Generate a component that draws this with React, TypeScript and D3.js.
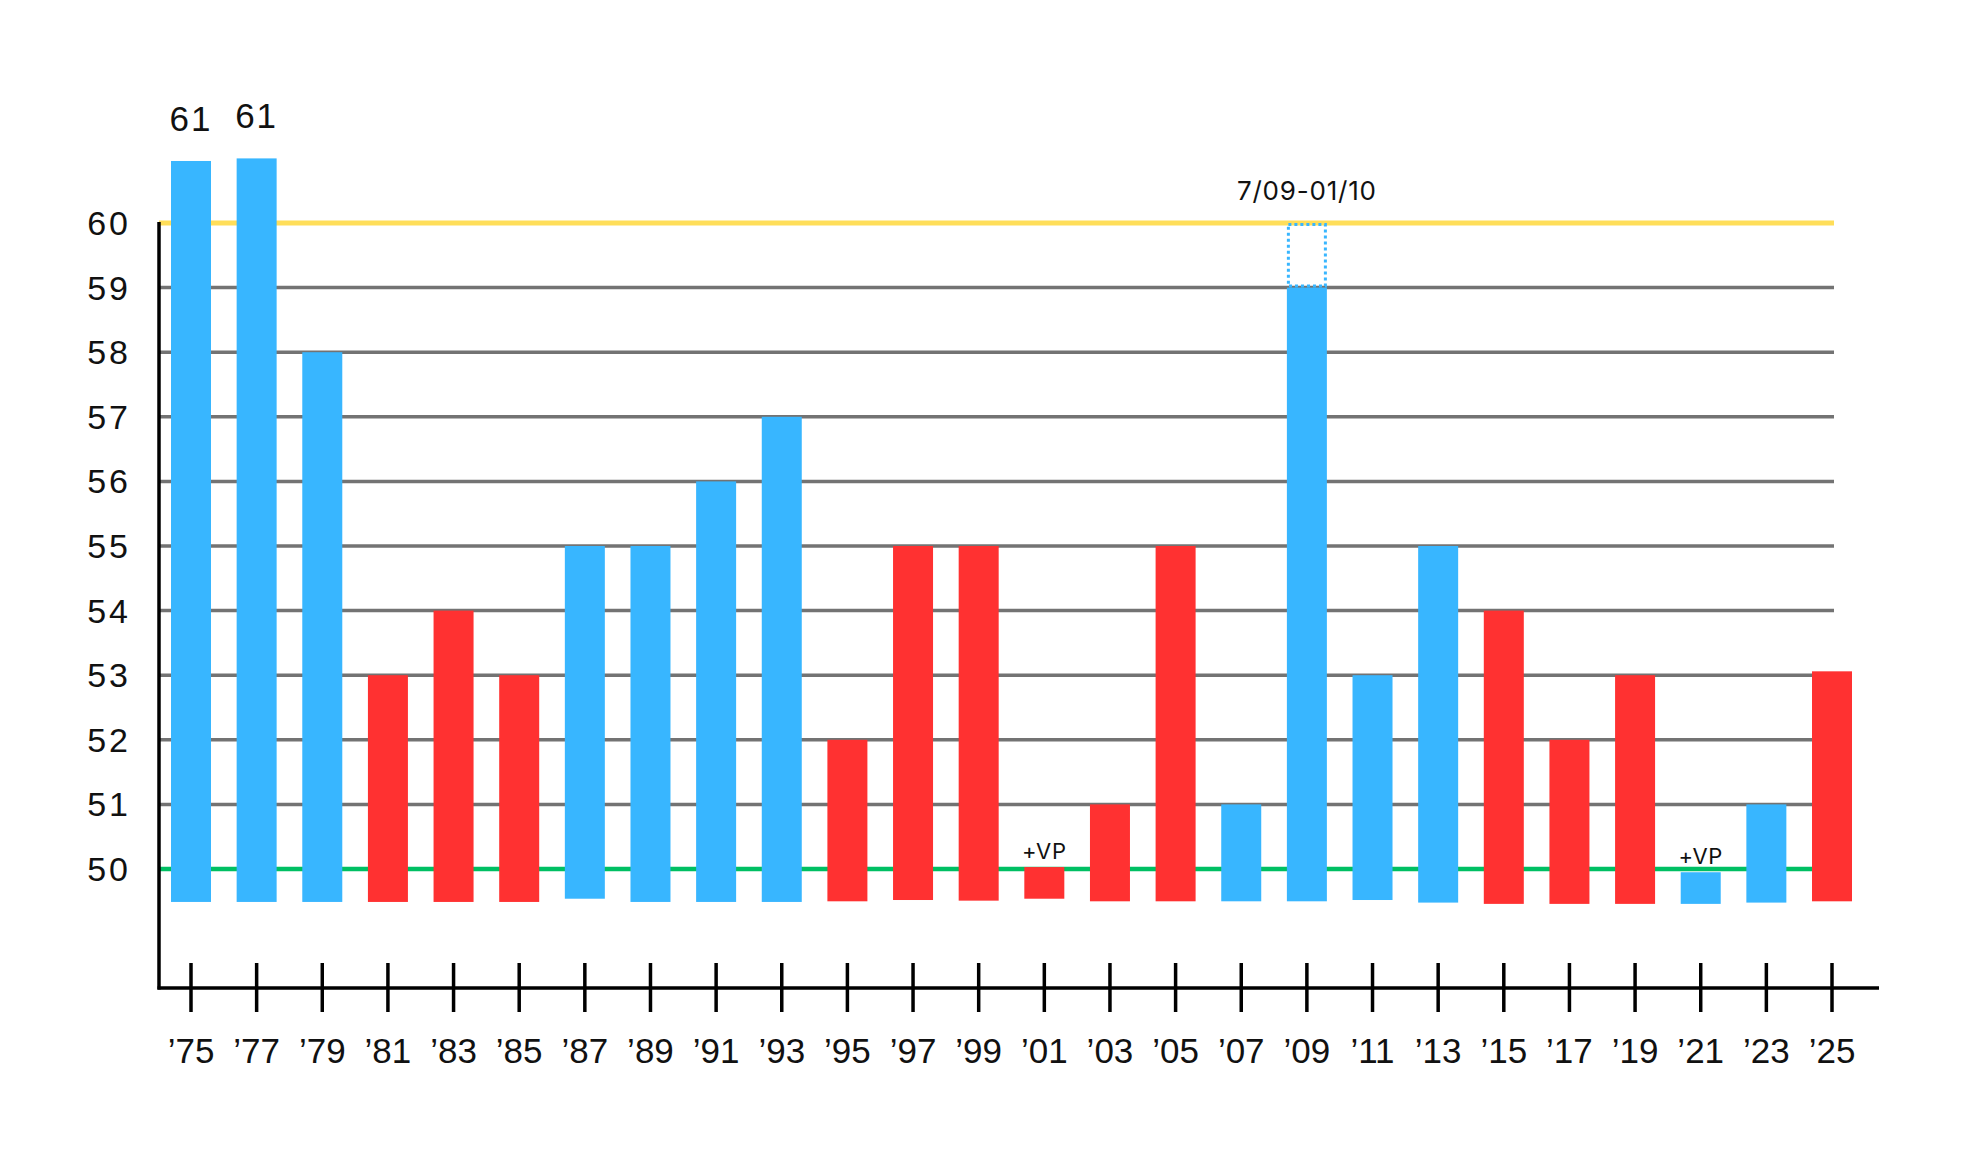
import React from "react";
import * as d3 from "d3";

// election cycles (two-digit years)
const years = ["75", "77", "79", "81", "83", "85", "87", "89", "91", "93", "95", "97", "99",
  "01", "03", "05", "07", "09", "11", "13", "15", "17", "19", "21", "23", "25"];

// seats held by the majority party
const seats = [60.96, 61, 58, 53, 54, 53, 55, 55, 56, 57, 52, 55, 55,
  50.03, 51, 55, 51, 59, 53, 55, 54, 52, 53, 49.95, 51, 53.06];

// where each bar starts (slightly below 50)
const bases = [49.49, 49.49, 49.49, 49.49, 49.49, 49.49, 49.54, 49.49, 49.49, 49.49, 49.5, 49.52, 49.51,
  49.54, 49.5, 49.5, 49.5, 49.5, 49.52, 49.48, 49.46, 49.46, 49.46, 49.46, 49.48, 49.5];

const party = ["D", "D", "D", "R", "R", "R", "D", "D", "D", "D", "R", "R", "R",
  "R", "R", "R", "D", "D", "D", "D", "R", "R", "R", "D", "D", "R"];

const yTicks = [50, 51, 52, 53, 54, 55, 56, 57, 58, 59, 60];
const topLabels = [{ year: "75", text: "61" }, { year: "77", text: "61" }];
const vpLabels = ["01", "21"];
const supermajority = { year: "09", from: 59, to: 60, text: "7/09-01/10" };

const W = 1981;
const H = 1159;
const colors: Record<string, string> = { D: "#38b6ff", R: "#ff3131" };

export default function App() {
  const x = d3.scalePoint<string>().domain(years).range([191, 1832]);
  const y = d3.scaleLinear().domain([50, 60]).range([869, 223]);
  const barW = 40;
  const axisX = 159;
  const axisY = 988;
  const gridEnd = 1834;

  return (
    <div style={{ position: "absolute", left: 0, top: 0, background: "#fff" }}>
      <svg width={W} height={H} style={{ display: "block" }}>
        <rect width={W} height={H} fill="#fff" />

        {/* gridlines */}
        {yTicks.filter(t => t > 50 && t < 60).map(t => (
          <line key={t} x1={axisX} x2={gridEnd} y1={y(t)} y2={y(t)} stroke="#737373" strokeWidth={3.5} />
        ))}
        <line x1={axisX} x2={gridEnd} y1={y(50)} y2={y(50)} stroke="#00bf63" strokeWidth={4.5} />
        <line x1={axisX} x2={gridEnd} y1={y(60)} y2={y(60)} stroke="#ffde59" strokeWidth={5} />

        {/* bars */}
        {years.map((yr, i) => (
          <rect key={yr}
            x={(x(yr) as number) - barW / 2}
            y={y(seats[i])}
            width={barW}
            height={y(bases[i]) - y(seats[i])}
            fill={colors[party[i]]} />
        ))}

        {/* filibuster-proof window */}
        <rect
          x={(x(supermajority.year) as number) - barW / 2 + 1.5}
          y={y(supermajority.to) + 1.5}
          width={barW - 3}
          height={y(supermajority.from) - y(supermajority.to) - 3}
          fill="none" stroke="#38b6ff" strokeWidth={3} strokeDasharray="3 3" />
        <text x={x(supermajority.year)} y={y(supermajority.to) - 23} textAnchor="middle"
          fontFamily="Inter" fontSize={26} letterSpacing={0.8} fill="#111">{supermajority.text}</text>

        {topLabels.map(d => {
          const i = years.indexOf(d.year);
          return (
            <text key={d.year} x={x(d.year)} y={y(seats[i]) - 30} textAnchor="middle"
              fontFamily="Liberation Sans" fontSize={35} letterSpacing={2} fill="#111">{d.text}</text>
          );
        })}

        {vpLabels.map(yr => {
          const i = years.indexOf(yr);
          return (
            <text key={yr} x={x(yr)} y={y(seats[i]) - 8} textAnchor="middle"
              fontFamily="Inter" fontSize={22} letterSpacing={0.6} fill="#111">+VP</text>
          );
        })}

        {/* y axis */}
        <line x1={axisX} x2={axisX} y1={y(60) - 1} y2={axisY + 1.5} stroke="#000" strokeWidth={3.5} />
        {yTicks.map(t => (
          <text key={t} x={131} y={y(t)} dy="0.35em" textAnchor="end"
            fontFamily="Liberation Sans" fontSize={34} letterSpacing={3} fill="#111">{t}</text>
        ))}

        {/* x axis */}
        <line x1={axisX - 1.5} x2={1879} y1={axisY} y2={axisY} stroke="#000" strokeWidth={3.5} />
        {years.map(yr => (
          <g key={yr} transform={`translate(${x(yr)},0)`}>
            <line y1={963} y2={1012} stroke="#000" strokeWidth={3.5} />
            <text y={1063} textAnchor="middle" fontFamily="Liberation Sans" fontSize={35} fill="#111">{"\u2019" + yr}</text>
          </g>
        ))}
      </svg>
    </div>
  );
}
